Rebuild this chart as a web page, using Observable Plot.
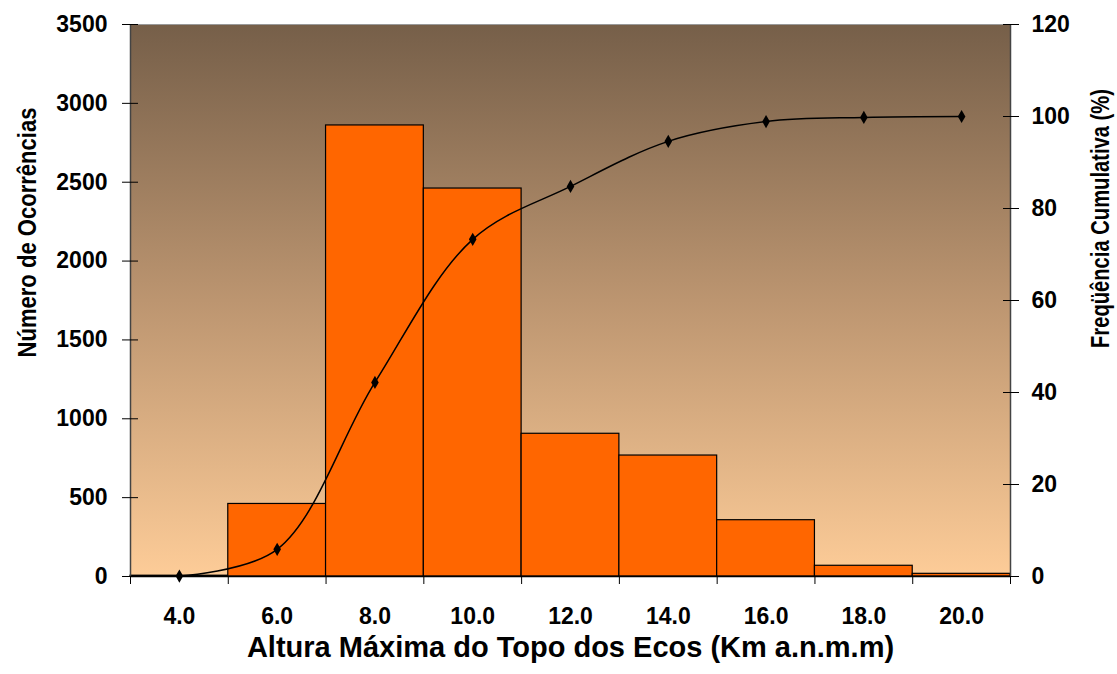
<!DOCTYPE html>
<html>
<head>
<meta charset="utf-8">
<script src="https://cdn.jsdelivr.net/npm/d3@7"></script>
<script src="https://cdn.jsdelivr.net/npm/@observablehq/plot@0.6"></script>
<style>
  html, body { margin: 0; padding: 0; background: #fff; }
  svg { font-family: "Liberation Sans", Arial, sans-serif; }
</style>
</head>
<body>
<div id="chart"></div>
<script>
// Categories (altura máxima do topo, km)
const categories = [4, 6, 8, 10, 12, 14, 16, 18, 20];
// Número de ocorrências
const counts = [5, 460, 2860, 2460, 905, 767, 357, 68, 17];
// Freqüência cumulativa (%)
const cumulative = [0.1, 5.9, 42.2, 73.3, 84.8, 94.6, 98.9, 99.8, 100];
// Tick values
const leftTicks = [0, 500, 1000, 1500, 2000, 2500, 3000, 3500];
const rightTicks = [0, 20, 40, 60, 80, 100, 120];
const edgeTicks = [3, 5, 7, 9, 11, 13, 15, 17, 19, 21];

const yMax = 3500, pMax = 120;
const toLeft = p => p * yMax / pMax;

const bars = categories.map((c, i) => ({c, n: counts[i]}));
const cum = categories.map((c, i) => ({c, p: cumulative[i]}));

const gradient = () => {
  const defs = d3.create("svg:defs");
  const g = defs.append("linearGradient").attr("id", "bg").attr("x1", 0).attr("y1", 0).attr("x2", 0).attr("y2", 1);
  g.append("stop").attr("offset", "0%").attr("stop-color", "#765f49");
  g.append("stop").attr("offset", "50%").attr("stop-color", "#bc9570");
  g.append("stop").attr("offset", "100%").attr("stop-color", "#fdcc98");
  return defs.node();
};

const font = {fontSize: 23, fontWeight: "bold"};

const chart = Plot.plot({
  width: 1117,
  height: 674,
  marginLeft: 130,
  marginRight: 107,
  marginTop: 24,
  marginBottom: 98,
  style: {fontFamily: '"Liberation Sans", Arial, sans-serif', color: "#000", background: "#fff"},
  x: {type: "linear", domain: [3, 21]},
  y: {domain: [0, yMax]},
  marks: [
    gradient,
    Plot.frame({fill: "url(#bg)", stroke: "#999"}),
    Plot.rectY(bars, {x1: d => d.c - 1, x2: d => d.c + 1, y: "n", fill: "#ff6600", stroke: "#000", strokeWidth: 1.2}),
    Plot.ruleX([3], {stroke: "#444", strokeWidth: 1.5}),
    Plot.ruleX([21], {stroke: "#444", strokeWidth: 1.5}),
    Plot.ruleY([0], {stroke: "#000", strokeWidth: 1.5}),
    Plot.line(cum, {x: "c", y: d => toLeft(d.p), curve: "catmull-rom", stroke: "#000", strokeWidth: 1.5}),
    Plot.dot(cum, {x: "c", y: d => toLeft(d.p), symbol: "diamond", r: 4, fill: "#000"}),
    // left axis
    Plot.axisY({anchor: "left", ticks: leftTicks, tickFormat: d3.format("d"), tickSize: 16, dx: 8, tickPadding: 15, label: null, ...font}),
    // right axis
    Plot.axisY({anchor: "right", ticks: rightTicks.map(toLeft), tickFormat: d => Math.round(d * pMax / yMax), tickSize: 16, dx: -8, tickPadding: 13, label: null, ...font}),
    // x axis tick marks at bin edges
    Plot.axisX({anchor: "bottom", ticks: edgeTicks, tickSize: 8, tickFormat: () => "", label: null}),
    // x labels at centers
    Plot.axisX({anchor: "bottom", ticks: categories, tickSize: 0, tickPadding: 31, tickFormat: d => d.toFixed(1), label: null, ...font}),
    // titles
    Plot.text(["Número de Ocorrências"], {className: "ylab-left", frameAnchor: "left", textAnchor: "middle", dx: -103, dy: -68, rotate: -90, fontSize: 26, fontWeight: "bold"}),
    Plot.text(["Freqüência Cumulativa (%)"], {className: "ylab-right", frameAnchor: "right", textAnchor: "middle", dx: 90, dy: -82, rotate: -90, fontSize: 25, fontWeight: "bold"}),
    Plot.text(["Altura Máxima do Topo dos Ecos (Km a.n.m.m)"], {frameAnchor: "bottom", textAnchor: "middle", dy: 80, fontSize: 29, fontWeight: "bold"})
  ]
});
// condensed look of the rotated axis titles
d3.select(chart).selectAll(".ylab-left text").attr("textLength", 250).attr("lengthAdjust", "spacingAndGlyphs");
d3.select(chart).selectAll(".ylab-right text").attr("textLength", 259).attr("lengthAdjust", "spacingAndGlyphs");
document.getElementById("chart").appendChild(chart);
</script>
</body>
</html>
